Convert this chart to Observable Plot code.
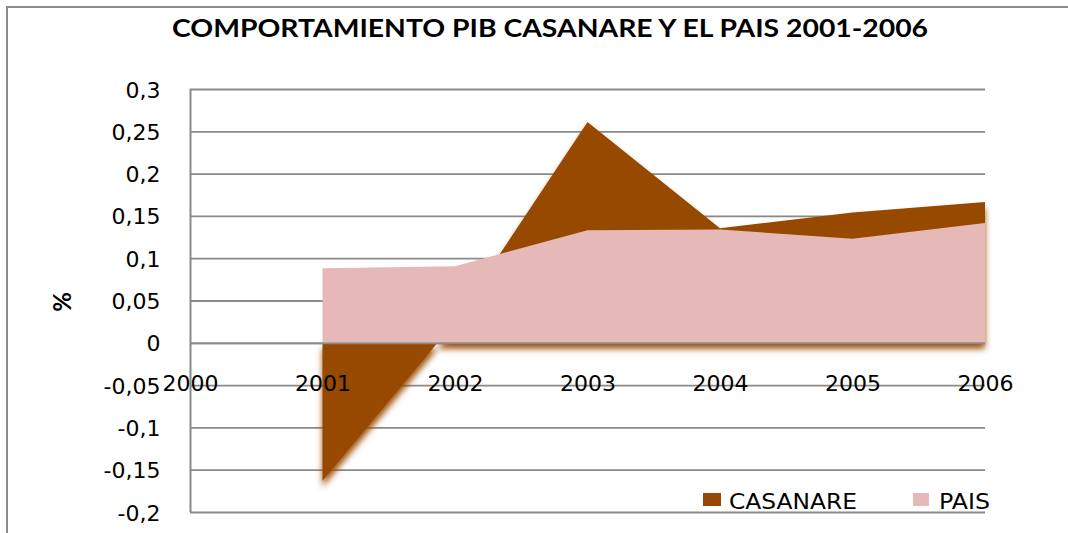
<!DOCTYPE html>
<html>
<head>
<meta charset="utf-8">
<script src="https://cdn.jsdelivr.net/npm/d3@7"></script>
<script src="https://cdn.jsdelivr.net/npm/@observablehq/plot@0.6"></script>
<style>
  html, body { margin: 0; padding: 0; background: white; overflow: hidden; }
  #chart { position: relative; width: 1068px; height: 533px; }
</style>
</head>
<body>
<div id="chart"></div>
<script>
// ---- data ----
const title = "COMPORTAMIENTO PIB CASANARE Y EL PAIS 2001-2006";
const yLabel = "%";
const years = [2001, 2002, 2003, 2004, 2005, 2006];
const casanare = [-0.163, 0.025, 0.261, 0.1355, 0.154, 0.1665];
const pais = [0.088, 0.0905, 0.133, 0.134, 0.123, 0.1415];
const seriesNames = ["CASANARE", "PAIS"];
const seriesColors = ["#974806", "#e6b9b8"];
const yTicks = [-0.2, -0.15, -0.1, -0.05, 0, 0.05, 0.1, 0.15, 0.2, 0.25, 0.3];
const yTickLabels = ["-0,2", "-0,15", "-0,1", "-0,05", "0", "0,05", "0,1", "0,15", "0,2", "0,25", "0,3"];
const xTicks = [2000, 2001, 2002, 2003, 2004, 2005, 2006];
const xTickLabels = ["2000", "2001", "2002", "2003", "2004", "2005", "2006"];

// ---- tables ----
const rowsC = years.map((x, i) => ({x, v: casanare[i]}));
const rowsP = years.map((x, i) => ({x, v: pais[i]}));
const yRows = yTicks.map((v, i) => ({x: xTicks[0], v, label: yTickLabels[i]}));
const xRows = xTicks.map((x, i) => ({x, v: 0, label: xTickLabels[i]}));

const grid = "#8a8a8a";
const W = 1068, H = 533;

const svg = Plot.plot({
  width: W, height: H,
  marginLeft: 190, marginRight: 83, marginTop: 89, marginBottom: 21,
  x: {domain: [2000, 2006], axis: null},
  y: {domain: [-0.2, 0.3], axis: null},
  style: {background: "white", fontFamily: "DejaVu Sans", color: "black", overflow: "hidden"},
  marks: [
    Plot.ruleY(yTicks, {stroke: grid, strokeWidth: 1.8}),
    Plot.areaY(rowsC, {x: "x", y: "v", fill: seriesColors[0]}),
    Plot.areaY(rowsP, {x: "x", y: "v", fill: seriesColors[1]}),
    Plot.ruleY([0], {stroke: grid, strokeWidth: 1.8}),
    Plot.ruleX([xTicks[0]], {stroke: grid, strokeWidth: 2}),
    Plot.text(yRows, {x: "x", y: "v", text: "label", textAnchor: "end", lineAnchor: "middle",
      dx: -30, dy: 1, fontSize: 22, fill: "black"}),
    Plot.text(xRows, {x: "x", y: "v", text: "label", textAnchor: "middle", lineAnchor: "middle",
      dy: 41, fontSize: 22, fill: "black"})
  ]
});

const s = d3.select(svg);
// shadow on CASANARE area
const defs = s.insert("defs", ":first-child");
const f = defs.append("filter").attr("id", "shadowC")
  .attr("x", "-10%").attr("y", "-10%").attr("width", "120%").attr("height", "130%");
f.append("feDropShadow").attr("dx", 0).attr("dy", 6).attr("stdDeviation", 3)
  .attr("flood-color", seriesColors[0]).attr("flood-opacity", 0.95);
const areas = s.selectAll('g[aria-label="area"]').nodes();
if (areas.length) d3.select(areas[0]).attr("filter", "url(#shadowC)");

// outer frame
s.append("rect").attr("x", 7).attr("y", 7).attr("width", W + 50).attr("height", H + 50)
  .attr("fill", "none").attr("stroke", "#8c8c8c").attr("stroke-width", 2);

// title
s.append("text").text(title)
  .attr("x", 172).attr("y", 37).attr("text-anchor", "start")
  .attr("font-family", "Lato, 'Open Sans', sans-serif").attr("font-weight", "bold")
  .attr("font-size", 25.5).attr("fill", "black")
  .attr("textLength", 756).attr("lengthAdjust", "spacingAndGlyphs");

// y label
s.append("text").text(yLabel)
  .attr("transform", "translate(71,302) rotate(-90)")
  .attr("text-anchor", "middle")
  .attr("font-family", "Lato, 'Open Sans', sans-serif").attr("font-weight", "bold")
  .attr("font-size", 24).attr("fill", "black");

// legend
const legendItems = [
  {sx: 703, sw: 18, tx: 729, tl: 128},
  {sx: 913, sw: 16, tx: 939, tl: 51}
];
legendItems.forEach((it, i) => {
  s.append("rect").attr("x", it.sx).attr("y", 493).attr("width", it.sw).attr("height", 13)
    .attr("fill", seriesColors[i]);
  s.append("text").text(seriesNames[i]).attr("x", it.tx).attr("y", 509).attr("text-anchor", "start")
    .attr("font-family", "DejaVu Sans").attr("font-size", 21).attr("fill", "black")
    .attr("textLength", it.tl).attr("lengthAdjust", "spacingAndGlyphs");
});

document.getElementById("chart").appendChild(svg);
</script>
</body>
</html>
